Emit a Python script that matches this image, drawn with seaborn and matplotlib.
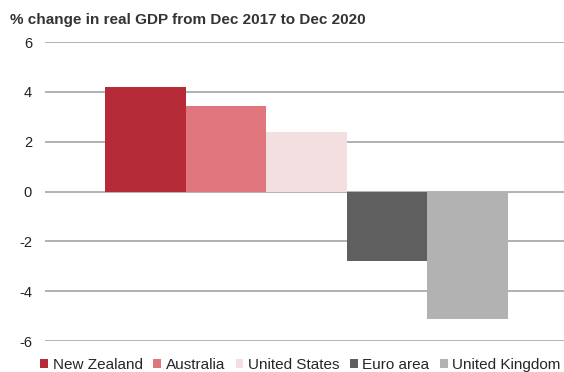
import matplotlib
matplotlib.use("Agg")
import matplotlib.pyplot as plt
from matplotlib.patches import Patch
import seaborn as sns
import pandas as pd

# Real GDP growth, Dec 2017 to Dec 2020
countries = ["New Zealand", "Australia", "United States", "Euro area", "United Kingdom"]
gdp_change = [4.2, 3.44, 2.4, -2.8, -5.1]
colors = ["#B52B38", "#DF757D", "#F3DFE0", "#5F5F5F", "#B2B2B2"]
yticks = [-6, -4, -2, 0, 2, 4, 6]

sns.set_theme(style="white")
plt.rcParams["font.family"] = ["Liberation Sans", "DejaVu Sans"]

df = pd.DataFrame({"group": ["GDP"] * len(countries),
                   "country": countries,
                   "change": gdp_change})

fig = plt.figure(figsize=(5.64, 3.72), dpi=100)
ax = fig.add_axes([0.0798, 0.0833, 0.9202, 0.8037])

sns.barplot(data=df, x="group", y="change", hue="country",
            hue_order=countries, palette=colors, width=0.7765,
            saturation=1, dodge=True, legend=False, ax=ax, linewidth=0)

ax.set_xlim(-0.504, 0.496)
ax.set_ylim(-6, 6)
ax.set_yticks(yticks)
ax.set_yticklabels([str(t) for t in yticks])
ax.set_xticks([])
ax.set_xlabel("")
ax.set_ylabel("")
ax.yaxis.grid(True, color="#ABABAB", linewidth=1.3)
ax.set_axisbelow(True)
for s in ax.spines.values():
    s.set_visible(False)
ax.tick_params(axis="y", length=0, pad=9.4, labelsize=10.5, labelcolor="#222222")

fig.text(0.018, 0.945, "% change in real GDP from Dec 2017 to Dec 2020",
         fontsize=11, fontweight="bold", color="#333333", va="center")

handles = [Patch(facecolor=c, edgecolor="none") for c in colors]
fig.legend(handles, countries, loc="center", bbox_to_anchor=(0.533, 0.019),
           ncol=5, frameon=False, fontsize=11, handlelength=0.5, handleheight=0.5,
           handletextpad=0.3, columnspacing=0.7, borderaxespad=0, borderpad=0)

fig.savefig("out.png", dpi=100)
